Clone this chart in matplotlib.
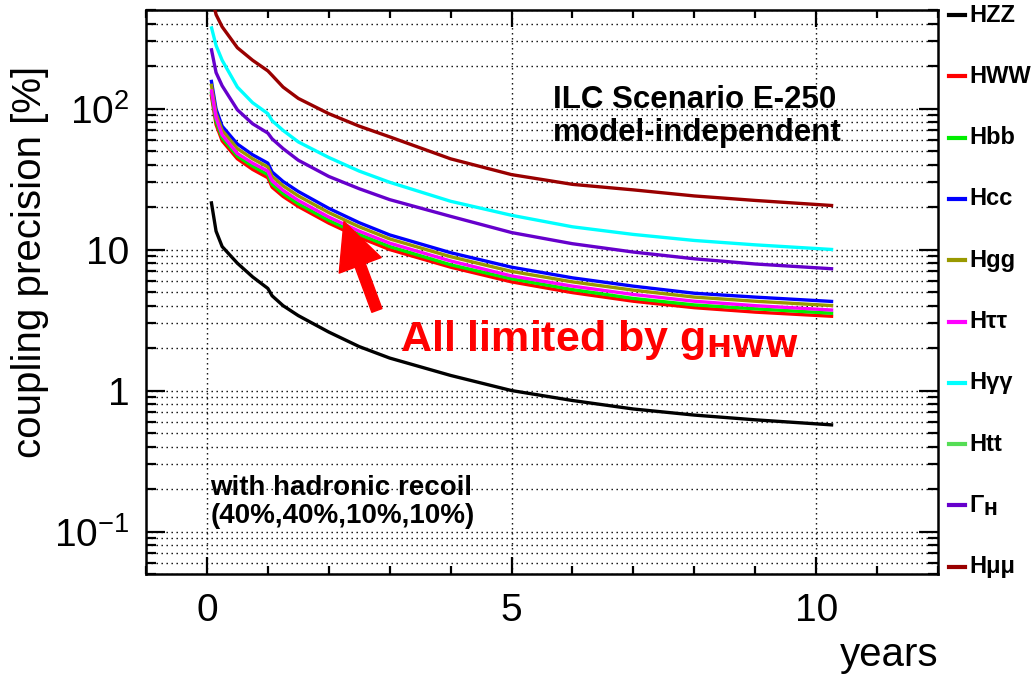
import matplotlib
matplotlib.use("Agg")
import matplotlib.pyplot as plt
from matplotlib.lines import Line2D
from matplotlib.ticker import FixedLocator, FixedFormatter, MultipleLocator, LogLocator

plt.rcParams["font.family"] = ["Liberation Sans", "DejaVu Sans"]
plt.rcParams["mathtext.default"] = "regular"

# years of running
years = [0.07, 0.15, 0.25, 0.5, 0.75, 1.0, 1.07, 1.25, 1.5, 2.0, 2.5, 3.0, 4.0, 5.0, 6.0, 7.0, 8.0, 9.0, 10.28]

# coupling precision [%]
hzz = [22, 13.5, 10.5, 8.0, 6.4, 5.3, 4.7, 4.0, 3.4, 2.6, 2.05, 1.7, 1.28, 1.0, 0.85, 0.74, 0.67, 0.62, 0.57]
hww = [126, 77, 59, 44, 37, 32.3, 27.7, 23.8, 20.2, 15.4, 12.2, 10.0, 7.5, 5.9, 4.95, 4.3, 3.87, 3.6, 3.36]
hbb = [132, 81, 62, 46, 39, 34, 29, 24.9, 21.1, 16.1, 12.8, 10.5, 7.8, 6.2, 5.2, 4.5, 4.05, 3.8, 3.53]
hcc = [160, 99, 75, 56, 47, 41, 35.5, 30.4, 25.8, 19.6, 15.5, 12.7, 9.5, 7.5, 6.3, 5.5, 4.9, 4.6, 4.28]
hgg = [150, 92, 70, 52, 44, 38.5, 33, 28.3, 24, 18.3, 14.5, 11.9, 8.9, 7.0, 5.9, 5.15, 4.6, 4.3, 4.0]
htautau = [137, 86, 65, 48, 41, 36, 30.7, 26.3, 22.3, 17.0, 13.5, 11.1, 8.3, 6.5, 5.5, 4.8, 4.3, 4.0, 3.72]
hgamgam = [383, 280, 220, 142, 110, 92, 82, 70, 58, 45, 36, 30, 22, 17.5, 14.5, 12.8, 11.6, 10.8, 10.0]
gamma_h = [268, 180, 145, 98, 78, 67, 61, 52, 43, 33, 27, 22.6, 17.2, 13.2, 11.0, 9.6, 8.6, 7.9, 7.3]
hmumu = [650, 464, 380, 270, 220, 185, 172, 142, 118, 92, 75, 63, 44, 34, 29, 26.5, 24, 22.3, 20.5]

labels = ["HZZ", "HWW", "Hbb", "Hcc", "Hgg", "H\u03c4\u03c4", "H\u03b3\u03b3", "Htt",
          r"$\Gamma_{\mathbf{H}}$", "H\u03bc\u03bc"]
colors = ["black", "#ff0000", "#00ee00", "#0000ff", "#999900", "#ff00ff", "#00ffff",
          "#55dd55", "#6600cc", "#990000"]
series = [hzz, hww, hbb, hcc, hgg, htautau, hgamgam, None, gamma_h, hmumu]

fig = plt.figure(figsize=(10.36, 6.77), dpi=100)
ax = fig.add_axes([146 / 1036, 1 - 574 / 677, 792 / 1036, 564 / 677])

for vals, c in zip(series, colors):
    if vals is None:  # no curve for Htt at 250 GeV
        continue
    ax.plot(years, vals, color=c, lw=2.4, solid_capstyle="butt", zorder=3)

ax.set_yscale("log")
ax.set_xlim(-1, 12)
ax.set_ylim(0.05, 500)

ax.xaxis.set_major_locator(MultipleLocator(5))
ax.xaxis.set_minor_locator(MultipleLocator(1))
ax.yaxis.set_major_locator(FixedLocator([0.1, 1, 10, 100]))
ax.yaxis.set_major_formatter(FixedFormatter([r"$10^{-1}$", "1", "10", r"$10^{2}$"]))
ax.yaxis.set_minor_locator(LogLocator(base=10, subs=range(2, 10)))
ax.yaxis.set_minor_formatter(FixedFormatter([]))

ax.tick_params(which="both", direction="in", top=True, right=True, width=1.6,
               labelsize=28, colors="black")
ax.tick_params(which="major", length=14, pad=12)
ax.tick_params(which="minor", length=7)
ax.tick_params(axis="x", which="major", length=12, pad=14)
ax.tick_params(axis="x", which="minor", length=6)
for s in ax.spines.values():
    s.set_linewidth(1.8)

ax.grid(axis="y", which="both", color="black", linestyle=(0, (1, 2.6)), lw=1.0)
ax.grid(axis="x", which="major", color="black", linestyle=(0, (1, 2.6)), lw=1.0)

fig.text(30 / 1036, 1 - 262 / 677, "coupling precision [%]", fontsize=29,
         rotation=90, ha="center", va="center")
fig.text(938 / 1036, 1 - 655 / 677, "years", fontsize=29, ha="right", va="center")

ax.text(0.514, 0.84, "ILC Scenario E-250", transform=ax.transAxes, fontsize=22.5,
        fontweight="bold", ha="left", va="center")
ax.text(0.514, 0.782, "model-independent", transform=ax.transAxes, fontsize=22.5,
        fontweight="bold", ha="left", va="center")
ax.text(0.081, 0.152, "with hadronic recoil", transform=ax.transAxes, fontsize=20,
        fontweight="bold", ha="left", va="center")
ax.text(0.081, 0.102, "(40%,40%,10%,10%)", transform=ax.transAxes, fontsize=20,
        fontweight="bold", ha="left", va="center")
ax.text(0.321, 0.415, r"All limited by g$_{\mathbf{HWW}}$", transform=ax.transAxes,
        fontsize=31, fontweight="bold", color="#ff0000", ha="left", va="center")

ax.annotate("", xy=(2.25, 15.8), xytext=(2.79, 3.7),
            arrowprops=dict(arrowstyle="simple,head_width=2.3,head_length=2.4,tail_width=0.55",
                            color="#ff0000", mutation_scale=14, shrinkA=0, shrinkB=0),
            zorder=5)

# legend column on the right
for i, (lab, c) in enumerate(zip(labels, colors)):
    yp = 1 - (15 + 61.3 * i) / 677
    fig.add_artist(Line2D([949 / 1036, 965 / 1036], [yp, yp], color=c, lw=3,
                          transform=fig.transFigure))
    fig.text(969 / 1036, yp, lab, fontsize=17, fontweight="bold", ha="left", va="center")

fig.savefig("out.png", dpi=100)
